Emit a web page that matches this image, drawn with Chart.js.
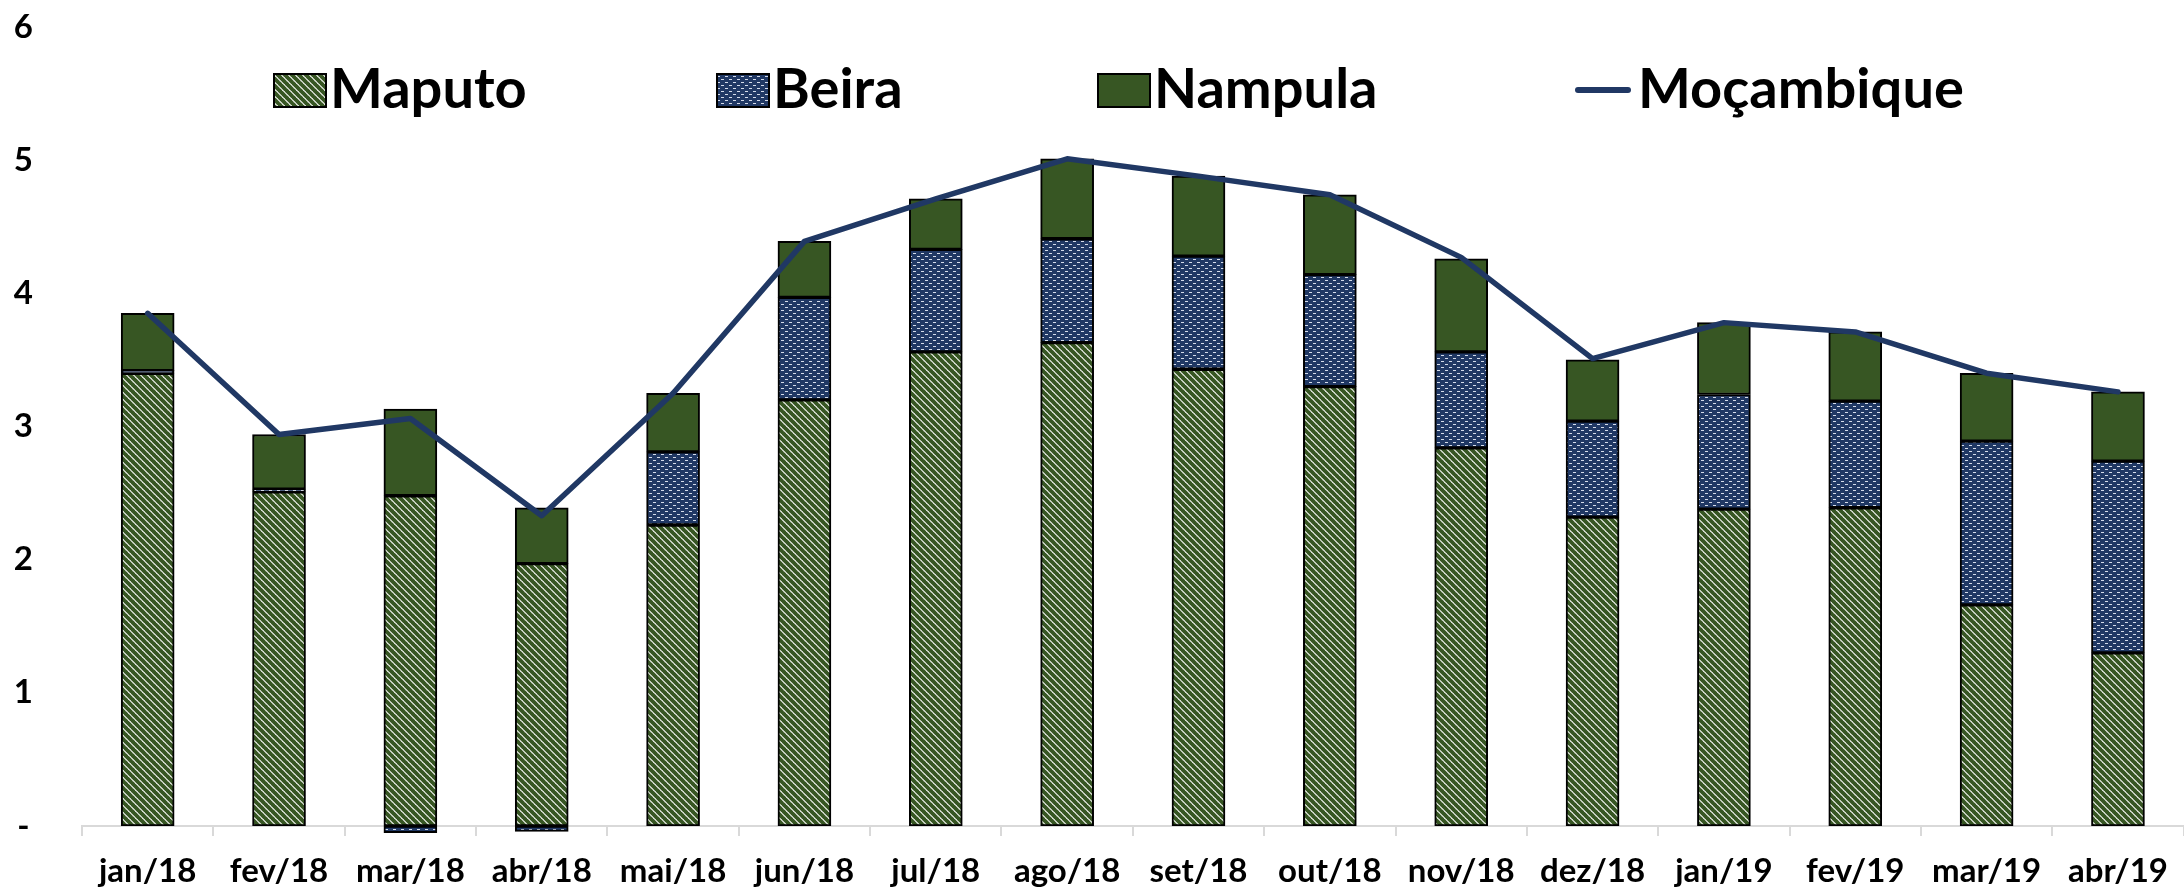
<!DOCTYPE html>
<html>
<head>
<meta charset="utf-8">
<script src="https://cdn.jsdelivr.net/npm/chart.js@4.4.1/dist/chart.umd.min.js"></script>
<style>
  html, body { margin: 0; padding: 0; background: #fff; }
  #wrap { width: 2184px; height: 889px; }
</style>
</head>
<body>
<div id="wrap"><canvas id="canvas1" width="2184" height="889"></canvas></div>
<script>
var meses = ['jan/18', 'fev/18', 'mar/18', 'abr/18', 'mai/18', 'jun/18', 'jul/18', 'ago/18',
             'set/18', 'out/18', 'nov/18', 'dez/18', 'jan/19', 'fev/19', 'mar/19', 'abr/19'];

var maputo = [3.40, 2.51, 2.48, 1.97, 2.26, 3.20, 3.56, 3.63, 3.43, 3.30, 2.84, 2.32, 2.38, 2.39, 1.66, 1.30];

var beira = [0.02, 0.02, -0.05, -0.04, 0.55, 0.77, 0.77, 0.78, 0.85, 0.84, 0.72, 0.72, 0.86, 0.80, 1.23, 1.44];

var nampula = [0.43, 0.41, 0.65, 0.42, 0.44, 0.42, 0.38, 0.60, 0.60, 0.60, 0.70, 0.46, 0.54, 0.52, 0.51, 0.52];

var mocambique = [3.85, 2.94, 3.06, 2.33, 3.25, 4.39, 4.71, 5.01, 4.88, 4.74, 4.27, 3.51, 3.78, 3.71, 3.40, 3.26];

var yMin = 0, yMax = 6, yStep = 1;

var verdeEscuro = '#375623';
var azulEscuro = '#203864';
var fonte = 'Lato, "Open Sans", sans-serif';

// padrao listrado (Maputo)
function padraoListras() {
	var s = 7;
	var c = document.createElement('canvas');
	c.width = s; c.height = s;
	var g = c.getContext('2d');
	g.fillStyle = '#ffffff';
	g.fillRect(0, 0, s, s);
	g.strokeStyle = '#375623';
	g.lineWidth = 4;
	[-s, 0, s].forEach(function (o) {
		g.beginPath();
		g.moveTo(o - 1, -1);
		g.lineTo(o + s + 1, s + 1);
		g.stroke();
	});
	return g.createPattern(c, 'repeat');
}

// padrao azul com tracos brancos (Beira)
function padraoTracos() {
	var c = document.createElement('canvas');
	c.width = 8; c.height = 6;
	var g = c.getContext('2d');
	g.fillStyle = azulEscuro;
	g.fillRect(0, 0, 8, 6);
	g.fillStyle = '#d5dcea';
	g.fillRect(1, 1, 3, 1);
	g.fillRect(5, 4, 3, 1);
	return g.createPattern(c, 'repeat');
}

var listras = padraoListras();
var tracos = padraoTracos();

var legenda = [
	{ nome: 'Maputo', tipo: 'caixa', cor: listras, x: 274 },
	{ nome: 'Beira', tipo: 'caixa', cor: tracos, x: 717 },
	{ nome: 'Nampula', tipo: 'caixa', cor: verdeEscuro, x: 1098 },
	{ nome: 'Moçambique', tipo: 'linha', cor: azulEscuro, x: 1575 }
];

var legendaPlugin = {
	id: 'legendaExcel',
	afterDraw: function (chart) {
		var ctx = chart.ctx;
		ctx.save();
		ctx.font = 'bold 56px ' + fonte;
		ctx.textBaseline = 'alphabetic';
		ctx.textAlign = 'left';
		legenda.forEach(function (it) {
			if (it.tipo === 'caixa') {
				ctx.fillStyle = it.cor;
				ctx.fillRect(it.x, 74, 52, 33);
				ctx.lineWidth = 2;
				ctx.strokeStyle = '#000';
				ctx.strokeRect(it.x, 74, 52, 33);
				ctx.fillStyle = '#000';
				ctx.fillText(it.nome, it.x + 56, 108);
			} else {
				ctx.strokeStyle = it.cor;
				ctx.lineWidth = 6;
				ctx.lineCap = 'round';
				ctx.beginPath();
				ctx.moveTo(it.x + 3, 90);
				ctx.lineTo(it.x + 53, 90);
				ctx.stroke();
				ctx.fillStyle = '#000';
				ctx.fillText(it.nome, it.x + 63, 108);
			}
		});
		ctx.restore();
	}
};

var barraComum = {
	type: 'bar',
	stack: 'cidades',
	order: 1,
	borderColor: '#000',
	borderWidth: 2,
	borderSkipped: false,
	barThickness: 53
};

var myChart = {
	type: 'bar',
	data: {
		labels: meses,
		datasets: [
			Object.assign({}, barraComum, { label: 'Maputo', data: maputo, backgroundColor: listras }),
			Object.assign({}, barraComum, { label: 'Beira', data: beira, backgroundColor: tracos, clip: false }),
			Object.assign({}, barraComum, { label: 'Nampula', data: nampula, backgroundColor: verdeEscuro }),
			{
				type: 'line',
				label: 'Moçambique',
				data: mocambique,
				stack: 'total',
				order: 0,
				borderColor: azulEscuro,
				borderWidth: 5.5,
				pointRadius: 0,
				tension: 0,
				fill: false,
				borderJoinStyle: 'round',
				borderCapStyle: 'round'
			}
		]
	},
	options: {
		responsive: false,
		animation: false,
		layout: { padding: { top: 27, right: -15, left: 0, bottom: 0 } },
		plugins: {
			legend: { display: false },
			tooltip: { enabled: false }
		},
		scales: {
			x: {
				stacked: true,
				offset: true,
				grid: {
					display: true,
					offset: true,
					drawOnChartArea: false,
					drawTicks: true,
					tickLength: 10,
					color: '#d9d9d9',
					lineWidth: 2
				},
				border: { display: true, color: '#d9d9d9', width: 2 },
				ticks: {
					font: { family: fonte, size: 33, weight: 'bold' },
					color: '#000',
					padding: 16,
					maxRotation: 0,
					autoSkip: false
				},
				afterFit: function (scale) { scale.height = 63; }
			},
			y: {
				stacked: true,
				min: yMin,
				max: yMax,
				grid: { display: false, drawTicks: false },
				border: { display: false },
				ticks: {
					stepSize: yStep,
					font: { family: fonte, size: 33, weight: 'bold' },
					color: '#000',
					padding: 49,
					crossAlign: 'center',
					callback: function (v) { return v === 0 ? '-' : v; }
				},
				afterFit: function (scale) {
					scale.width = 82;
					scale.paddingTop = 18;
					scale.paddingBottom = 18;
				}
			}
		}
	},
	plugins: [legendaPlugin]
};

window.onload = function () {
	var ctx = document.getElementById('canvas1').getContext('2d');
	new Chart(ctx, myChart);
};
</script>
</body>
</html>
